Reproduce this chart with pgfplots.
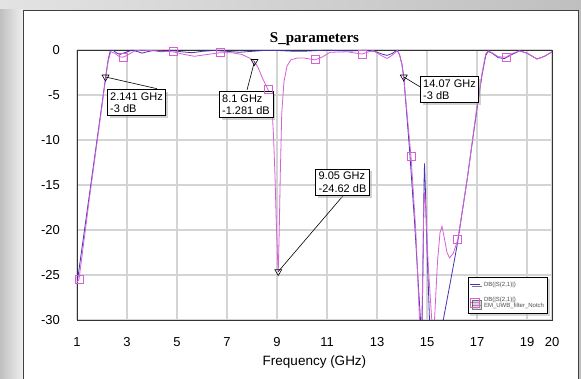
\documentclass[border=0pt]{standalone}
\usepackage{fontspec}
\setmainfont{Liberation Sans}
\newfontfamily\titlefont{Liberation Serif}
\usepackage{pgfplots}
\pgfplotsset{compat=1.18}
\usetikzlibrary{shadows}
\definecolor{bluec}{RGB}{70,50,180}
\definecolor{pinkc}{RGB}{215,95,215}
\definecolor{gridc}{RGB}{212,212,212}
\begin{document}
\begin{tikzpicture}[x=1pt,y=1pt]
\useasboundingbox (0,0) rectangle (581,379);
\shade[left color=gray!22, right color=gray!50] (0,0) rectangle (581,379);
\shade[left color=gray!50, right color=gray!12] (0,0) rectangle (23,369);
\draw[black!75, line width=0.8pt, fill=white] (23,-5) rectangle (578,369);
\begin{axis}[
 at={(77pt,59pt)}, anchor=south west,
 scale only axis, width=475pt, height=270pt,
 xmin=1, xmax=20, ymin=-30, ymax=0,
 xtick={1,3,5,7,9,11,13,15,17,19,20},
 xticklabels={1,3,5,7,9,11,13,15,17,19,20},
 ytick={-30,-25,-20,-15,-10,-5,0},
 yticklabels={-30,-25,-20,-15,-10,-5,0},
 major tick length=0pt,
 grid=major,
 major grid style={gridc, line width=1.1pt},
 axis line style={black!80, line width=0.8pt},
 tick label style={font=\fontsize{13}{13}\selectfont, inner sep=0pt},
 xticklabel style={anchor=center, yshift=-21.7pt},
 yticklabel style={anchor=east, xshift=-17pt},
 xlabel={Frequency (GHz)},
 xlabel style={at={(axis description cs:0.5,0)}, anchor=center, yshift=-42pt, inner sep=0pt, font=\fontsize{13.5}{13.5}\selectfont},
 title={S\_parameters},
 title style={at={(axis description cs:0.5,1)}, anchor=base, yshift=1pt, inner sep=0pt, font=\titlefont\bfseries\fontsize{15}{15}\selectfont},
 legend style={at={(axis description cs:0.823,0.159)}, anchor=north west, font=\fontsize{6}{6.5}\selectfont, text=black!70, draw=black, line width=0.6pt, fill=white, inner xsep=1.5pt, inner ysep=2.5pt, row sep=5pt, column sep=1.5pt, cells={align=left, anchor=west}, drop shadow={shadow xshift=2pt, shadow yshift=-2pt, fill=gray!60}},
 legend cell align=left,
 clip=true,
]
\addplot[bluec, line width=0.8pt, forget plot] table {
1 -26
1.5 -16
2.0 -6
2.141 -3.1
2.25 -1.0
2.33 -0.1
2.45 -0.05
2.6 -0.35
2.72 -0.5
2.9 -0.3
3.2 -0.02
3.45 -0.2
3.6 -0.35
3.8 -0.2
4.05 -0.05
4.4 -0.2
4.8 -0.05
5.2 -0.2
5.6 -0.3
6.0 -0.15
6.5 -0.05
7.0 -0.15
7.5 -0.25
8.0 -0.15
8.5 -0.05
9.0 -0.05
9.5 -0.12
10.0 -0.15
10.5 -0.08
11.0 -0.02
11.5 -0.08
12.0 -0.1
12.5 -0.03
12.9 -0.15
13.2 -0.45
13.4 -0.6
13.6 -0.4
13.8 -0.02
13.9 -0.5
14.0 -1.6
14.07 -3
14.3 -11
14.5 -19
14.74 -30
14.78 -35
14.84 -24
14.88 -15
14.9 -12.6
14.93 -15
15.0 -22
15.1 -30
15.14 -35
15.6 -35
15.65 -30
16.0 -24.8
16.23 -21.3
16.6 -14.5
17.0 -6.5
17.2 -2.8
17.35 -0.6
17.45 -0.15
17.6 -0.35
17.85 -0.85
18.1 -0.95
18.4 -0.5
18.7 -0.1
19.0 -0.35
19.4 -1.0
19.7 -0.7
20 -0.2
};
\addplot[pinkc, line width=0.8pt, forget plot] table {
1.0 -25.8
1.08 -25.5
1.5 -16.4
2.0 -6.2
2.141 -3.2
2.25 -1.2
2.35 -0.2
2.5 -0.35
2.7 -0.75
2.84 -0.8
3.0 -0.6
3.3 -0.1
3.6 -0.02
4.2 -0.1
4.84 -0.2
5.3 -0.5
5.7 -0.7
6.2 -0.5
6.72 -0.3
7.2 -0.3
7.6 -0.5
7.9 -0.9
8.1 -1.281
8.25 -2.0
8.4 -3.0
8.55 -3.9
8.64 -4.4
8.72 -5.0
8.8 -6.5
8.86 -9.5
8.92 -14
8.97 -19
9.02 -23
9.05 -24.62
9.09 -20
9.13 -14
9.19 -7
9.28 -3.5
9.4 -1.8
9.55 -1.1
9.8 -0.9
10.1 -0.9
10.52 -1.1
10.8 -0.8
11.12 -0.25
11.8 -0.2
12.4 -0.45
12.84 -0.05
13.1 -0.5
13.4 -0.95
13.6 -0.6
13.82 -0.05
13.92 -0.7
14.0 -1.7
14.07 -3.1
14.36 -11.8
14.55 -20
14.7 -30
14.75 -35
14.81 -28
14.86 -19
14.9 -15.8
14.94 -17
15.05 -24
15.19 -30
15.25 -35
15.3 -30
15.42 -23.5
15.52 -20.3
15.6 -19.6
15.7 -21
15.8 -22.5
15.9 -23.1
16.05 -22.6
16.23 -21.1
16.6 -14.5
17.0 -6.3
17.2 -2.6
17.35 -0.4
17.45 -0.1
17.6 -0.3
17.85 -0.75
18.16 -0.8
18.4 -0.4
18.7 -0.1
19.0 -0.35
19.4 -1.0
19.7 -0.7
20 -0.2
};
\addplot[only marks, mark=square, mark size=4pt, pinkc, mark options={line width=0.8pt}, forget plot] coordinates {
(1.08,-25.5) (2.84,-0.8) (4.84,-0.2) (6.72,-0.3) (8.64,-4.4) (10.52,-1.1) (12.4,-0.45) (14.36,-11.8) (16.23,-21.1) (18.16,-0.8)
};
\draw[black, line width=0.6pt] (axis cs:2.141,-3) -- (axis cs:4.2,-4.3);
\draw[black, line width=0.6pt] (axis cs:8.1,-1.281) -- (axis cs:7.8,-4.44);
\draw[black, line width=0.6pt] (axis cs:9.05,-24.62) -- (axis cs:11.64,-16.2);
\draw[black, line width=0.6pt] (axis cs:14.07,-3) -- (axis cs:14.8,-4.22);
\addplot[only marks, mark=triangle, mark size=4pt, mark options={rotate=180, draw=black, fill=white, line width=0.6pt}, forget plot] coordinates {
(2.141,-3) (8.1,-1.281) (9.05,-24.62) (14.07,-3)
};
\tikzset{mbox/.style={draw=black, fill=white, line width=0.6pt, align=left, inner sep=3pt, font=\fontsize{11}{12.5}\selectfont, drop shadow={shadow xshift=2.5pt, shadow yshift=-2.5pt, fill=gray!70}}}
\node[mbox] at (axis cs:3.38,-5.83) {2.141 GHz\\-3 dB};
\node[mbox] at (axis cs:7.76,-6.06) {8.1 GHz\\-1.281 dB};
\node[mbox] at (axis cs:11.62,-14.67) {9.05 GHz\\-24.62 dB};
\node[mbox] at (axis cs:15.9,-4.39) {14.07 GHz\\-3 dB};
\addlegendimage{legend image code/.code={\draw[bluec, line width=0.8pt] (0pt,0pt) -- (10pt,0pt);}}
\addlegendentry{DB(|S(2,1)|)}
\addlegendimage{legend image code/.code={\draw[pinkc, line width=0.8pt] (0pt,0pt) -- (9pt,0pt); \draw[pinkc, line width=0.8pt] (0pt,-4.5pt) rectangle (9pt,4.5pt);}}
\addlegendentry{DB(|S(2,1)|)\\EM\_UWB\_filter\_Notch}
\end{axis}
\end{tikzpicture}
\end{document}
